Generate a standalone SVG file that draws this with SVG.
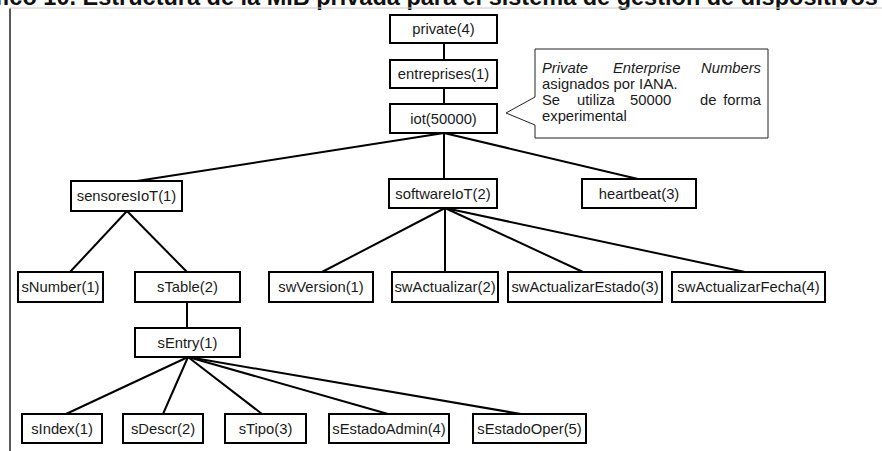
<svg xmlns="http://www.w3.org/2000/svg" width="882" height="451" viewBox="0 0 882 451">
  <style>
    .box { fill: #ffffff; stroke: #000000; stroke-width: 2; }
    .lbl { font-family: "Liberation Sans", Arial, sans-serif; font-size: 14.8px; fill: #1a1a1a; text-anchor: middle; }
    .note { font-family: "Liberation Sans", Arial, sans-serif; font-size: 14.8px; fill: #1a1a1a; }
    .edge { stroke: #000000; stroke-width: 2; fill: none; }
    .title { font-family: "Liberation Sans", Arial, sans-serif; font-size: 23.5px; font-weight: bold; fill: #111111; }
  </style>
  <rect x="0" y="0" width="882" height="451" fill="#ffffff"/>

  <!-- caption strip and frame -->
  <text class="title" x="-5" y="5">fico 10. Estructura de la MIB privada para el sistema de gestión de dispositivos</text>
  <line x1="10" y1="8" x2="882" y2="8" stroke="#c8c8c8" stroke-width="1"/>
  <line x1="10" y1="8.5" x2="10" y2="451" stroke="#000000" stroke-width="1.3"/>

  <!-- connectors -->
  <g id="connectors">
    <line class="edge" x1="444" y1="43" x2="444" y2="60"/>
    <line class="edge" x1="444" y1="88" x2="444" y2="104"/>
    <line class="edge" x1="444" y1="133" x2="137" y2="181"/>
    <line class="edge" x1="444" y1="133" x2="444" y2="179"/>
    <line class="edge" x1="444" y1="133" x2="638" y2="179"/>
    <line class="edge" x1="127" y1="211" x2="70" y2="272"/>
    <line class="edge" x1="127" y1="211" x2="187" y2="272"/>
    <line class="edge" x1="445" y1="208" x2="322" y2="272"/>
    <line class="edge" x1="445" y1="208" x2="445" y2="272"/>
    <line class="edge" x1="445" y1="208" x2="583" y2="272"/>
    <line class="edge" x1="445" y1="208" x2="745" y2="272"/>
    <line class="edge" x1="187" y1="302" x2="187" y2="328"/>
    <line class="edge" x1="188" y1="357" x2="66" y2="414"/>
    <line class="edge" x1="188" y1="357" x2="163" y2="414"/>
    <line class="edge" x1="188" y1="357" x2="262" y2="414"/>
    <line class="edge" x1="188" y1="357" x2="388" y2="414"/>
    <line class="edge" x1="188" y1="357" x2="521" y2="414"/>
  </g>

  <!-- callout note -->
  <g id="note">
    <path d="M535,49 H768 V138 H535 V125 L506,113 L535,97 Z" fill="#ffffff" stroke="#222222" stroke-width="1"/>
    <g class="note" font-style="italic">
      <text x="542" y="73">Private</text>
      <text x="613" y="73">Enterprise</text>
      <text x="761" y="73" text-anchor="end">Numbers</text>
    </g>
    <text class="note" x="542" y="89">asignados por IANA.</text>
    <text class="note" x="542" y="105">Se</text>
    <text class="note" x="577" y="105">utiliza</text>
    <text class="note" x="630" y="105">50000</text>
    <text class="note" x="700" y="105">de</text>
    <text class="note" x="761" y="105" text-anchor="end">forma</text>
    <text class="note" x="542" y="121">experimental</text>
  </g>

  <g id="private"><rect class="box" x="390" y="15" width="107" height="28"/><text class="lbl" x="443.5" y="34">private(4)</text></g>
  <g id="entreprises"><rect class="box" x="390" y="60" width="107" height="28"/><text class="lbl" x="443.5" y="79">entreprises(1)</text></g>
  <g id="iot"><rect class="box" x="390" y="104" width="107" height="29"/><text class="lbl" x="443.5" y="123.5">iot(50000)</text></g>

  <g id="sensoresIoT"><rect class="box" x="71" y="181" width="111" height="30"/><text class="lbl" x="126.5" y="201">sensoresIoT(1)</text></g>
  <g id="softwareIoT"><rect class="box" x="389" y="179" width="108" height="29"/><text class="lbl" x="443" y="198.5">softwareIoT(2)</text></g>
  <g id="heartbeat"><rect class="box" x="582" y="179" width="114" height="29"/><text class="lbl" x="639" y="198.5">heartbeat(3)</text></g>

  <g id="sNumber"><rect class="box" x="18" y="272" width="85" height="30"/><text class="lbl" x="60.5" y="292">sNumber(1)</text></g>
  <g id="sTable"><rect class="box" x="135" y="272" width="105" height="30"/><text class="lbl" x="187.5" y="292">sTable(2)</text></g>
  <g id="swVersion"><rect class="box" x="269" y="272" width="104" height="30"/><text class="lbl" x="321" y="292">swVersion(1)</text></g>
  <g id="swActualizar"><rect class="box" x="392" y="272" width="106" height="30"/><text class="lbl" x="445" y="292">swActualizar(2)</text></g>
  <g id="swActualizarEstado"><rect class="box" x="508" y="272" width="154" height="30"/><text class="lbl" x="585" y="292">swActualizarEstado(3)</text></g>
  <g id="swActualizarFecha"><rect class="box" x="672" y="272" width="153" height="30"/><text class="lbl" x="748.5" y="292">swActualizarFecha(4)</text></g>

  <g id="sEntry"><rect class="box" x="135" y="328" width="105" height="29"/><text class="lbl" x="187.5" y="347.5">sEntry(1)</text></g>

  <g id="sIndex"><rect class="box" x="22" y="414" width="80" height="29"/><text class="lbl" x="62" y="433.5">sIndex(1)</text></g>
  <g id="sDescr"><rect class="box" x="123" y="414" width="80" height="29"/><text class="lbl" x="163" y="433.5">sDescr(2)</text></g>
  <g id="sTipo"><rect class="box" x="225" y="414" width="81" height="29"/><text class="lbl" x="265.5" y="433.5">sTipo(3)</text></g>
  <g id="sEstadoAdmin"><rect class="box" x="329" y="414" width="120" height="29"/><text class="lbl" x="389" y="433.5">sEstadoAdmin(4)</text></g>
  <g id="sEstadoOper"><rect class="box" x="473" y="414" width="113" height="29"/><text class="lbl" x="529.5" y="433.5">sEstadoOper(5)</text></g>
</svg>
